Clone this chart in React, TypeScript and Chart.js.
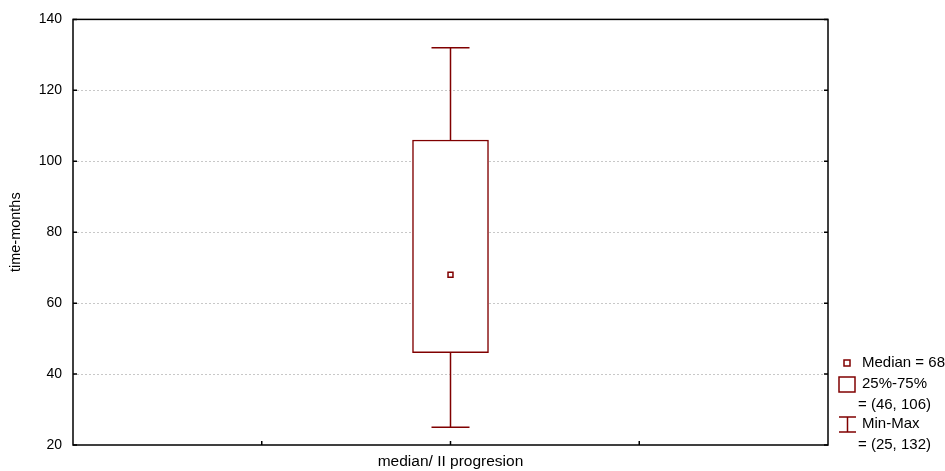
import React, { useEffect, useRef } from "react";
import Chart from "chart.js/auto";

const categoryLabel = "median/ II progresion";
const yTitle = "time-months";
const categoryPos = [2];
const minValues = [25];
const q1Values = [46];
const medianValues = [68];
const q3Values = [106];
const maxValues = [132];
const yTicks = [20, 40, 60, 80, 100, 120, 140];
const xTicks = [1, 2, 3];

const RED = "#800000";
const FONT = "'Liberation Sans', Arial, sans-serif";

const boxPlugin = {
  id: "boxExtras",
  beforeDatasetsDraw(chart: any) {
    const { ctx, scales } = chart;
    const x = scales.x;
    const y = scales.y;
    ctx.save();
    ctx.strokeStyle = RED;
    ctx.lineWidth = 1.5;
    categoryPos.forEach((c, i) => {
      const px = x.getPixelForValue(c);
      const yMin = y.getPixelForValue(minValues[i]);
      const yMax = y.getPixelForValue(maxValues[i]);
      const yQ1 = y.getPixelForValue(q1Values[i]);
      const yQ3 = y.getPixelForValue(q3Values[i]);
      const capHalf = 19;
      ctx.beginPath();
      ctx.moveTo(px, yMax);
      ctx.lineTo(px, yQ3);
      ctx.moveTo(px, yQ1);
      ctx.lineTo(px, yMin);
      ctx.moveTo(px - capHalf, yMax);
      ctx.lineTo(px + capHalf, yMax);
      ctx.moveTo(px - capHalf, yMin);
      ctx.lineTo(px + capHalf, yMin);
      ctx.stroke();
    });
    ctx.restore();
  },
  afterDraw(chart: any) {
    const { ctx, chartArea, scales } = chart;
    const { left, right, top, bottom } = chartArea;
    ctx.save();
    ctx.strokeStyle = "#000";
    ctx.lineWidth = 1.5;
    ctx.strokeRect(left, top, right - left, bottom - top);
    ctx.beginPath();
    yTicks.forEach((v) => {
      const py = scales.y.getPixelForValue(v);
      ctx.moveTo(left, py);
      ctx.lineTo(left + 4, py);
      ctx.moveTo(right - 4, py);
      ctx.lineTo(right, py);
    });
    xTicks.forEach((v) => {
      const px = scales.x.getPixelForValue(v);
      ctx.moveTo(px, bottom);
      ctx.lineTo(px, bottom - 4);
    });
    ctx.stroke();

    // legend
    ctx.font = `15px ${FONT}`;
    ctx.textBaseline = "middle";
    ctx.textAlign = "left";
    ctx.strokeStyle = RED;
    ctx.lineWidth = 1.5;
    ctx.fillStyle = "#fff";
    ctx.fillRect(844, 360, 6, 6);
    ctx.strokeRect(844, 360, 6, 6);
    ctx.fillStyle = "#000";
    ctx.fillText(`Median = ${medianValues[0]}`, 862, 363);
    ctx.strokeRect(839, 377, 16, 15);
    ctx.fillText("25%-75%", 862, 384);
    ctx.fillText(`= (${q1Values[0]}, ${q3Values[0]})`, 858, 405);
    ctx.beginPath();
    ctx.moveTo(839, 417);
    ctx.lineTo(856, 417);
    ctx.moveTo(847.5, 417);
    ctx.lineTo(847.5, 432);
    ctx.moveTo(839, 432);
    ctx.lineTo(856, 432);
    ctx.stroke();
    ctx.fillText("Min-Max", 862, 424);
    ctx.fillText(`= (${minValues[0]}, ${maxValues[0]})`, 858, 445);
    ctx.restore();
  },
};

export default function App() {
  const ref = useRef<HTMLCanvasElement | null>(null);
  useEffect(() => {
    if (!ref.current) return;
    Chart.defaults.font.family = FONT;
    Chart.defaults.font.size = 14;
    Chart.defaults.color = "#000";
    const chart = new Chart(ref.current, {
      type: "bar",
      data: {
        datasets: [
          {
            type: "bar",
            data: categoryPos.map((c, i) => ({ x: c, y: [q1Values[i], q3Values[i]] })) as any,
            backgroundColor: "#fff",
            borderColor: RED,
            borderWidth: 1.5,
            borderSkipped: false,
            barThickness: 76,
            order: 2,
          } as any,
          {
            type: "scatter",
            data: categoryPos.map((c, i) => ({ x: c, y: medianValues[i] })),
            pointStyle: "rect",
            pointRadius: 3.5,
            backgroundColor: "#fff",
            borderColor: RED,
            borderWidth: 1.5,
            order: 1,
          } as any,
        ],
      },
      options: {
        animation: false,
        responsive: true,
        maintainAspectRatio: false,
        layout: { padding: { top: 19, right: 117, left: 0, bottom: 0 } },
        plugins: { legend: { display: false }, tooltip: { enabled: false } },
        scales: {
          x: {
            type: "linear",
            min: 0,
            max: 4,
            offset: false,
            ticks: { display: false },
            grid: { display: false, offset: false },
            border: { display: false },
            title: {
              display: true,
              text: categoryLabel,
              font: { size: 15.5 },
              padding: { top: 2, bottom: 0 },
            },
            afterFit: (s: any) => {
              s.height = 26;
            },
          },
          y: {
            type: "linear",
            min: 20,
            max: 140,
            ticks: { stepSize: 20, padding: 11, font: { size: 14 } },
            grid: {
              drawTicks: false,
              color: (c: any) =>
                c.tick && (c.tick.value === 20 || c.tick.value === 140) ? "rgba(0,0,0,0)" : "#c8c8c8",
              lineWidth: 1,
            },
            border: { display: false, dash: [2, 2] },
            title: { display: true, text: yTitle, font: { size: 14.5 }, padding: { top: 7, bottom: 0 } },
            afterFit: (s: any) => {
              s.width = 73;
            },
          },
        },
      },
      plugins: [boxPlugin],
    });
    return () => chart.destroy();
  }, []);
  return (
    <div style={{ position: "absolute", left: 0, top: 0, width: 945, height: 471, background: "#fff" }}>
      <canvas ref={ref} />
    </div>
  );
}
